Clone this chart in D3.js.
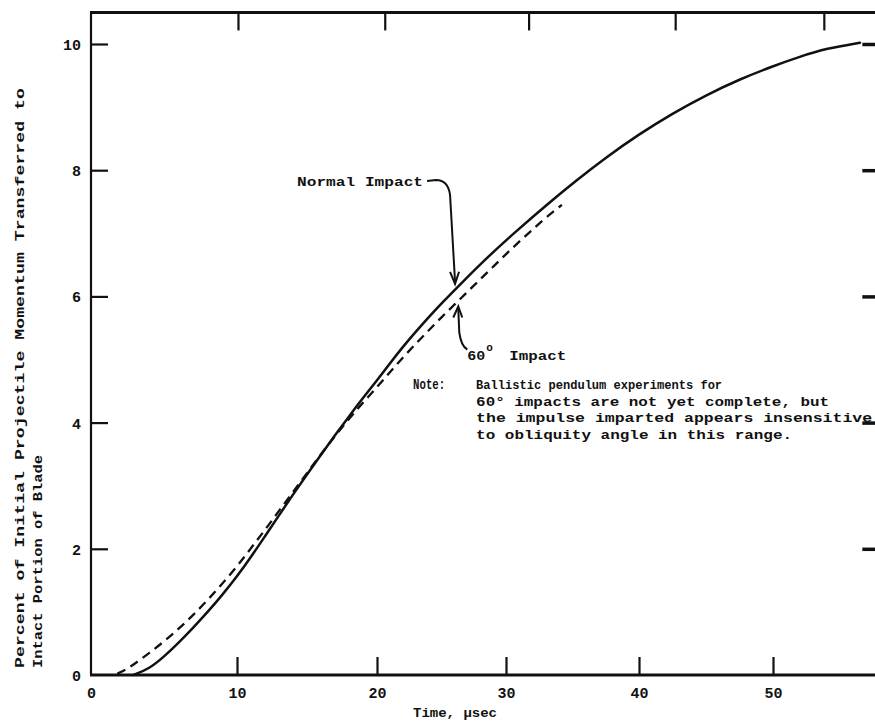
<!DOCTYPE html>
<html>
<head>
<meta charset="utf-8">
<script src="https://cdn.jsdelivr.net/npm/d3@7/dist/d3.min.js"></script>
<style>
  html, body { margin: 0; padding: 0; background: #fff; }
  svg { display: block; }
  text { font-family: "Liberation Mono", "DejaVu Sans Mono", monospace; fill: #111; }
</style>
</head>
<body>
<svg id="chart" width="875" height="722"></svg>
<script>
// ---------------- data ----------------
const normalTime  = [2.9, 4, 5, 6, 7, 8, 9, 10, 11, 12, 13, 14, 15, 16, 17, 18, 19, 20, 21, 22, 23, 24, 25, 26.4, 28.5, 30.8, 33.1, 35.3, 37.5, 40, 42.5, 45, 47.5, 50, 52, 54, 56.5];
const normalValue = [0, 0.1, 0.29, 0.51, 0.75, 1.0, 1.27, 1.56, 1.87, 2.2, 2.53, 2.86, 3.18, 3.49, 3.8, 4.1, 4.39, 4.67, 4.94, 5.2, 5.44, 5.67, 5.89, 6.18, 6.61, 7.04, 7.46, 7.84, 8.2, 8.57, 8.9, 9.19, 9.44, 9.65, 9.8, 9.93, 10.02];

const obliqueTime  = [1.8, 2.5, 3, 4, 5, 6, 7, 8, 9, 10, 11, 12, 13, 14, 15, 16, 17, 18, 19, 20, 21, 22, 23, 24, 25, 26, 27, 28, 29, 30, 31, 32, 33, 34.2];
const obliqueValue = [0.02, 0.1, 0.18, 0.35, 0.53, 0.73, 0.95, 1.19, 1.45, 1.72, 2.01, 2.3, 2.6, 2.9, 3.2, 3.5, 3.79, 4.06, 4.32, 4.56, 4.8, 5.03, 5.25, 5.46, 5.67, 5.87, 6.07, 6.27, 6.47, 6.67, 6.87, 7.06, 7.25, 7.45];

const xTickValues = [0, 10, 20, 30, 40, 50];
const yTickValues = [0, 2, 4, 6, 8, 10];
const topTickValues = [10.07, 20.6, 31.7, 42.7, 53.8];
const rightTickValues = [2, 4, 6, 8, 10];

const xTitle = "Time, \u03bcsec";
const yTitle1 = "Percent of Initial Projectile Momentum Transferred to";
const yTitle2 = "Intact Portion of Blade";
const normalLabel = "Normal Impact";
const obliqueLabel = ["60", "o", "Impact"];
const noteHead = "Note:";
const noteLines = [
  "Ballistic pendulum experiments for",
  "60\u00b0 impacts are not yet complete, but",
  "the impulse imparted appears insensitive",
  "to obliquity angle in this range."
];

// ---------------- layout ----------------
const svg = d3.select("#chart");
svg.append("rect").attr("width", 875).attr("height", 722).attr("fill", "#fff");

// scanned figure: axis is slightly non-uniform, calibrate piecewise on the tick marks
const x = d3.scaleLinear()
  .domain([0, 10, 20, 30, 40, 50, 58])
  .range([91, 237, 377, 506, 639, 773, 880]);
const y = d3.scaleLinear().domain([0, 10]).range([675, 44]);

const xMax = 57.8, yTop = 10.5;
const ink = "#111";

// frame
const frame = svg.append("g");
frame.append("line").attr("x1", x(0)).attr("x2", x(0)).attr("y1", y(0)).attr("y2", y(yTop))
  .attr("stroke", ink).attr("stroke-width", 2.2);
frame.append("line").attr("x1", x(0) - 1).attr("x2", x(xMax)).attr("y1", y(yTop)).attr("y2", y(yTop))
  .attr("stroke", ink).attr("stroke-width", 3);
frame.append("line").attr("x1", x(0) - 1).attr("x2", x(xMax)).attr("y1", y(0)).attr("y2", y(0))
  .attr("stroke", ink).attr("stroke-width", 2.8);
frame.append("line").attr("x1", x(xMax)).attr("x2", x(xMax)).attr("y1", y(0)).attr("y2", y(yTop))
  .attr("stroke", ink).attr("stroke-width", 3);

function styleAxis(g) {
  g.select(".domain").remove();
  g.selectAll(".tick line").attr("stroke", ink).attr("stroke-width", 2.2);
  g.selectAll(".tick text")
    .attr("fill", ink)
    .style("font-family", "'Liberation Mono', monospace")
    .style("font-weight", "bold")
    .style("font-size", "15px");
}

// bottom axis
svg.append("g").attr("transform", `translate(0,${y(0)})`)
  .call(d3.axisBottom(x).tickValues(xTickValues).tickSize(-18).tickPadding(12).tickFormat(d3.format("d")))
  .call(styleAxis)
  .call(g => g.selectAll(".tick line").filter(d => d === 0).remove());

// left axis
svg.append("g").attr("transform", `translate(${x(0)},0)`)
  .call(d3.axisLeft(y).tickValues(yTickValues).tickSize(-17).tickPadding(10).tickFormat(d3.format("d")))
  .call(styleAxis)
  .call(g => g.selectAll(".tick line").filter(d => d === 0).remove())
  .call(g => g.selectAll(".tick text").attr("dy", "0.36em"));

// top ticks
svg.append("g").attr("transform", `translate(0,${y(yTop)})`)
  .call(d3.axisTop(x).tickValues(topTickValues).tickSize(-18).tickFormat(""))
  .call(styleAxis);

// right ticks
svg.append("g").attr("transform", `translate(${x(xMax)},0)`)
  .call(d3.axisRight(y).tickValues(rightTickValues).tickSize(-15).tickFormat(""))
  .call(g => g.select(".domain").remove())
  .call(g => g.selectAll(".tick line").attr("stroke", ink).attr("stroke-width", 3.5));

// axis titles
svg.append("text")
  .attr("x", 455).attr("y", 717)
  .attr("text-anchor", "middle")
  .attr("textLength", 84).attr("lengthAdjust", "spacingAndGlyphs")
  .style("font-size", "13px").style("font-weight", "bold")
  .text(xTitle);

svg.append("text")
  .attr("transform", `translate(24,${y(0) - 7}) rotate(-90)`)
  .attr("text-anchor", "start")
  .attr("textLength", 580).attr("lengthAdjust", "spacingAndGlyphs")
  .style("font-size", "12.5px").style("font-weight", "bold")
  .text(yTitle1);
svg.append("text")
  .attr("transform", `translate(42,${y(0) - 7}) rotate(-90)`)
  .attr("text-anchor", "start")
  .attr("textLength", 213).attr("lengthAdjust", "spacingAndGlyphs")
  .style("font-size", "12.5px").style("font-weight", "bold")
  .text(yTitle2);

// curves
const line = d3.line().x(d => x(d[0])).y(d => y(d[1])).curve(d3.curveBasis);
const normalPts = normalTime.map((t, i) => [t, normalValue[i]]);
const obliquePts = obliqueTime.map((t, i) => [t, obliqueValue[i]]);

svg.append("path").datum(normalPts).attr("d", line)
  .attr("fill", "none").attr("stroke", ink).attr("stroke-width", 2.5).attr("stroke-linecap", "round");
svg.append("path").datum(obliquePts).attr("d", line)
  .attr("fill", "none").attr("stroke", ink).attr("stroke-width", 2.3)
  .attr("stroke-dasharray", "9,6");

// ---------------- annotations ----------------
const ann = svg.append("g");

// Normal impact
const nlX = x(14.29), nlY = y(7.75);
ann.append("text").attr("x", nlX).attr("y", nlY)
  .attr("textLength", 126).attr("lengthAdjust", "spacingAndGlyphs")
  .style("font-size", "13px").style("font-weight", "bold")
  .text(normalLabel);
const nTip = [x(26.05), y(6.2)];
const nStart = [nlX + 130, nlY - 5];
ann.append("path")
  .attr("d", `M${nStart[0]},${nStart[1]} L${nStart[0] + 9},${nStart[1] - 1} Q${nStart[0] + 21},${nStart[1] - 1} ${nStart[0] + 23},${nStart[1] + 14} L${nTip[0]},${nTip[1] - 2}`)
  .attr("fill", "none").attr("stroke", ink).attr("stroke-width", 2);
ann.append("path")
  .attr("d", `M${nTip[0] - 5},${nTip[1] - 12} L${nTip[0]},${nTip[1]} L${nTip[0] + 4},${nTip[1] - 12}`)
  .attr("fill", "none").attr("stroke", ink).attr("stroke-width", 2);

// 60 degree impact
const oTip = [x(26.3), y(5.84)];
const olX = x(27.0), olY = y(5.0);
ann.append("path")
  .attr("d", `M${oTip[0]},${oTip[1] + 2} L${oTip[0] + 1},${oTip[1] + 26} Q${oTip[0] + 3},${oTip[1] + 40} ${olX},${olY - 10}`)
  .attr("fill", "none").attr("stroke", ink).attr("stroke-width", 2);
ann.append("path")
  .attr("d", `M${oTip[0] - 5},${oTip[1] + 11} L${oTip[0]},${oTip[1]} L${oTip[0] + 4},${oTip[1] + 11}`)
  .attr("fill", "none").attr("stroke", ink).attr("stroke-width", 2);
ann.append("text").attr("x", olX).attr("y", olY)
  .attr("textLength", 18).attr("lengthAdjust", "spacingAndGlyphs")
  .style("font-size", "13px").style("font-weight", "bold")
  .text(obliqueLabel[0]);
ann.append("text").attr("x", olX + 19).attr("y", olY - 9)
  .style("font-size", "11px").style("font-weight", "bold")
  .text(obliqueLabel[1]);
ann.append("text").attr("x", olX + 42).attr("y", olY)
  .attr("textLength", 57).attr("lengthAdjust", "spacingAndGlyphs")
  .style("font-size", "13px").style("font-weight", "bold")
  .text(obliqueLabel[2]);

// note
const noteX = x(22.8), noteY = y(4.53);
ann.append("text").attr("x", noteX).attr("y", noteY)
  .attr("textLength", 32).attr("lengthAdjust", "spacingAndGlyphs")
  .style("font-size", "14px").style("font-weight", "bold")
  .text(noteHead);
const noteLens = [246, 353, 396, 316];
noteLines.forEach((s, i) => {
  ann.append("text")
    .attr("x", noteX + 63).attr("y", noteY + i * 16.6)
    .attr("textLength", noteLens[i]).attr("lengthAdjust", "spacingAndGlyphs")
    .style("font-size", "13px").style("font-weight", "bold")
    .text(s);
});
</script>
</body>
</html>
